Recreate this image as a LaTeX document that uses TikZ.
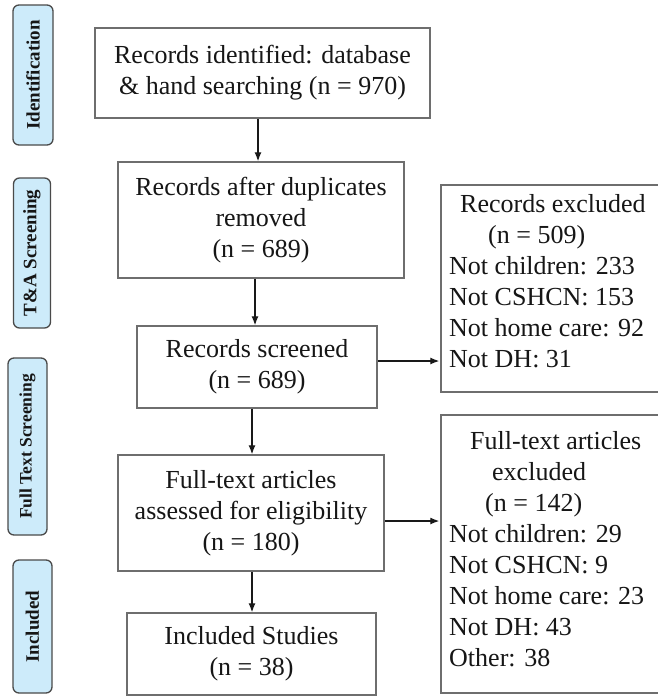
\documentclass[tikz,border=0pt]{standalone}
\usepackage{fontspec}
\setmainfont{Liberation Serif}
\usetikzlibrary{arrows.meta}
\definecolor{boxline}{HTML}{6E6E6E}
\definecolor{lblfill}{HTML}{CDEBFA}
\definecolor{lbldraw}{HTML}{4A4A4A}
\definecolor{txt}{HTML}{161616}
\begin{document}
\begin{tikzpicture}[x=1pt,y=-1pt,
  flowbox/.style={draw=boxline,line width=1.5pt,rectangle,inner sep=0pt,align=center,
    text=txt,font=\fontsize{26}{31}\selectfont},
  borderbox/.style={draw=boxline,line width=1.5pt,rectangle,inner sep=0pt},
  listtext/.style={inner sep=0pt,align=left,text=txt,font=\fontsize{26}{31}\selectfont,anchor=base west},
  lbl/.style={draw=lbldraw,fill=lblfill,line width=1.3pt,rounded corners=6pt,rotate=90,
    inner sep=0pt,text=txt,font=\bfseries\fontsize{19}{22}\selectfont},
  arr/.style={-{Latex[length=9pt,width=7pt]},line width=1.2pt,draw=black!90}
]
\useasboundingbox (0,0) rectangle (658,696);
\clip (0,0) rectangle (658,696);
\fill[white] (0,0) rectangle (658,696);

% side labels
\node[lbl,minimum width=140pt,minimum height=40pt] (l1) at (33,75) {Identification};
\node[lbl,minimum width=150pt,minimum height=37pt] (l2) at (32,253) {T\&A Screening};
\node[lbl,minimum width=177pt,minimum height=39pt,font=\bfseries\fontsize{17.5}{20}\selectfont] (l3) at (27.5,446.5) {Full Text Screening};
\node[lbl,minimum width=133pt,minimum height=39pt] (l4) at (32.5,626.5) {Included};

% main column
\node[flowbox,minimum width=335pt,minimum height=90pt] (b1) at (262.5,73)
  {Records identified: database\\\& hand searching (n = 970)};
\node[flowbox,minimum width=286pt,minimum height=116pt] (b2) at (261,220)
  {Records after duplicates\\removed\\(n = 689)};
\node[flowbox,minimum width=240pt,minimum height=82pt] (b3) at (257,367)
  {Records screened\\(n = 689)};
\node[flowbox,minimum width=266pt,minimum height=116pt] (b4) at (251,513)
  {Full-text articles\\assessed for eligibility\\(n = 180)};
\node[flowbox,minimum width=249pt,minimum height=82pt] (b7) at (251.5,654)
  {Included Studies\\(n = 38)};

% exclusion boxes
\node[borderbox,minimum width=279pt,minimum height=207pt] (b5) at (580.5,288.5) {};
\node[listtext] (t5) at (449,367)
  {\hspace*{11pt}Records excluded\\
   \hspace*{39pt}(n = 509)\\
   Not children: 233\\
   Not CSHCN: 153\\
   Not home care: 92\\
   Not DH: 31};
\node[borderbox,minimum width=279pt,minimum height=278pt] (b6) at (580.5,554) {};
\node[listtext] (t6) at (449,666)
  {\hspace*{21pt}Full-text articles\\
   \hspace*{43pt}excluded\\
   \hspace*{36pt}(n = 142)\\
   Not children: 29\\
   Not CSHCN: 9\\
   Not home care: 23\\
   Not DH: 43\\
   Other: 38};

% connectors
\draw[arr] ([xshift=-4.5pt]b1.south) -- ([xshift=-4.5pt]b1.south |- b2.north);
\draw[arr] ([xshift=-6pt]b2.south) -- ([xshift=-6pt]b2.south |- b3.north);
\draw[arr] ([xshift=-5pt]b3.south) -- ([xshift=-5pt]b3.south |- b4.north);
\draw[arr] ([xshift=1pt]b4.south) -- ([xshift=1pt]b4.south |- b7.north);
\draw[arr] ([yshift=6pt]b3.east) -- ([yshift=6pt,xshift=-1pt]b3.east -| b5.west);
\draw[arr] ([yshift=-8pt]b4.east) -- ([yshift=-8pt,xshift=-1pt]b4.east -| b6.west);
\end{tikzpicture}
\end{document}
